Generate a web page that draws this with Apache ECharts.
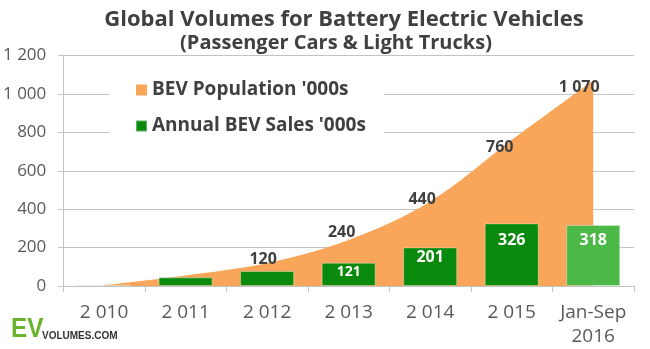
<!DOCTYPE html>
<html>
<head>
<meta charset="utf-8">
<script src="https://cdn.jsdelivr.net/npm/echarts@6/dist/echarts.min.js"></script>
<style>
  html, body { margin: 0; padding: 0; background: #ffffff; }
  #chart { width: 650px; height: 349px; }
</style>
</head>
<body>
<div id="chart"></div>
<script>
// Global BEV volumes (thousands)
const categories = ['2 010', '2 011', '2 012', '2 013', '2 014', '2 015', 'Jan-Sep\n2016'];
const populationValues = [5, 55, 120, 240, 440, 760, 1070];
const salesValues = [6, 45, 78, 121, 201, 326, 318];
const yTickValues = [0, 200, 400, 600, 800, 1000, 1200];

const populationName = "BEV Population '000s";
const salesName = "Annual BEV Sales '000s";

// thousands separated by a space, e.g. 1 070
function spaced(v) {
  return String(v).replace(/\B(?=(\d{3})+(?!\d))/g, ' ');
}

const FONT = '"Open Sans", "Noto Sans", sans-serif';
const ORANGE = '#f9a65a';
const GREEN = '#0a8a0c';
const LIGHT_GREEN = '#4cb848';
const TEXT_DARK = '#404040';
const TEXT_AXIS = '#595959';
const GRID_GRAY = '#c3c3c3';

// label placement for the cumulative area (first two points unlabelled)
const popLabelOffsets = [null, null, [-4, 5], [-7, 1], [-8, 6], [-12, 16], [-14, 15]];
// label placement inside the sales bars (first three bars unlabelled)
const salesLabelStyle = [null, null, null,
  { distance: 2, fontSize: 14 },
  { distance: 2, fontSize: 16 },
  { distance: 9, fontSize: 16 },
  { distance: 8, fontSize: 16 }];

const populationData = populationValues.map((v, i) => {
  const off = popLabelOffsets[i];
  return {
    value: v,
    label: off ? { show: true, offset: off } : { show: false }
  };
});

const salesData = salesValues.map((v, i) => {
  const st = salesLabelStyle[i];
  const item = { value: v };
  if (i === salesValues.length - 1) item.itemStyle = { color: LIGHT_GREEN };
  item.label = st ? { show: true, distance: st.distance, fontSize: st.fontSize } : { show: false };
  return item;
});

const chart = echarts.init(document.getElementById('chart'), null, { renderer: 'canvas' });

chart.setOption({
  animation: false,
  backgroundColor: '#ffffff',
  textStyle: { fontFamily: FONT },
  title: [
    {
      text: 'Global Volumes for Battery Electric Vehicles',
      left: 339, top: 4, textAlign: 'center',
      textStyle: { fontFamily: FONT, fontSize: 22, fontWeight: 'bold', color: TEXT_DARK }
    },
    {
      text: '(Passenger Cars & Light Trucks)',
      left: 331, top: 28, textAlign: 'center',
      textStyle: { fontFamily: FONT, fontSize: 20, fontWeight: 'bold', color: TEXT_DARK }
    }
  ],
  legend: {
    orient: 'vertical',
    left: 110, top: 71,
    padding: [8, 18, 10, 25],
    backgroundColor: '#ffffff',
    itemGap: 14,
    itemWidth: 11, itemHeight: 11,
    icon: 'rect',
    textStyle: { fontFamily: FONT, fontSize: 19, lineHeight: 22, fontWeight: 'bold', color: TEXT_DARK },
    data: [
      { name: populationName, itemStyle: { color: ORANGE } },
      { name: salesName, itemStyle: { color: GREEN } }
    ]
  },
  grid: { left: 61, right: 16, top: 55.5, bottom: 62, containLabel: false },
  xAxis: {
    type: 'category',
    data: categories,
    boundaryGap: true,
    axisLine: { show: true, lineStyle: { color: GRID_GRAY, width: 1 } },
    axisTick: { show: true, interval: 0, length: 6, lineStyle: { color: GRID_GRAY } },
    axisLabel: {
      interval: 0, margin: 15,
      fontFamily: FONT, fontSize: 19, color: TEXT_AXIS, lineHeight: 24
    }
  },
  yAxis: {
    type: 'value',
    min: yTickValues[0], max: yTickValues[yTickValues.length - 1], interval: 200,
    axisLine: { show: true, lineStyle: { color: GRID_GRAY, width: 1 } },
    axisTick: { show: true, length: 5, lineStyle: { color: GRID_GRAY } },
    axisLabel: {
      margin: 17,
      fontFamily: FONT, fontSize: 17, color: TEXT_AXIS,
      formatter: v => spaced(v)
    },
    splitLine: { show: true, lineStyle: { color: GRID_GRAY, width: 1 } }
  },
  series: [
    {
      name: populationName,
      type: 'line',
      data: populationData,
      smooth: 0.35,
      symbol: 'circle',
      symbolSize: 1,
      showSymbol: true,
      itemStyle: { color: ORANGE },
      lineStyle: { width: 0, color: ORANGE },
      areaStyle: { color: ORANGE, opacity: 1 },
      z: 2,
      label: {
        show: true, position: 'top', distance: 0,
        fontFamily: FONT, fontSize: 16, fontWeight: 'bold', color: TEXT_DARK,
        formatter: p => spaced(p.value)
      }
    },
    {
      name: salesName,
      type: 'bar',
      data: salesData,
      barWidth: 54,
      itemStyle: { color: GREEN, borderColor: 'rgba(255,255,255,0.35)', borderWidth: 1 },
      z: 3,
      label: {
        show: true, position: 'insideTop',
        fontFamily: FONT, fontWeight: 'bold', color: '#ffffff',
        formatter: p => spaced(p.value)
      }
    }
  ],
  graphic: [
    {
      type: 'text', left: 11, top: 316,
      style: { text: 'EV', font: 'bold 27px "Liberation Sans Narrow", "Liberation Sans", Arial, sans-serif', fill: '#6ab42d' },
      scaleX: 0.9
    },
    {
      type: 'text', left: 42, top: 331,
      style: { text: 'VOLUMES.COM', font: 'bold 10px "Liberation Sans Narrow", "Liberation Sans", Arial, sans-serif', fill: '#333333' }
    }
  ]
});
</script>
</body>
</html>
